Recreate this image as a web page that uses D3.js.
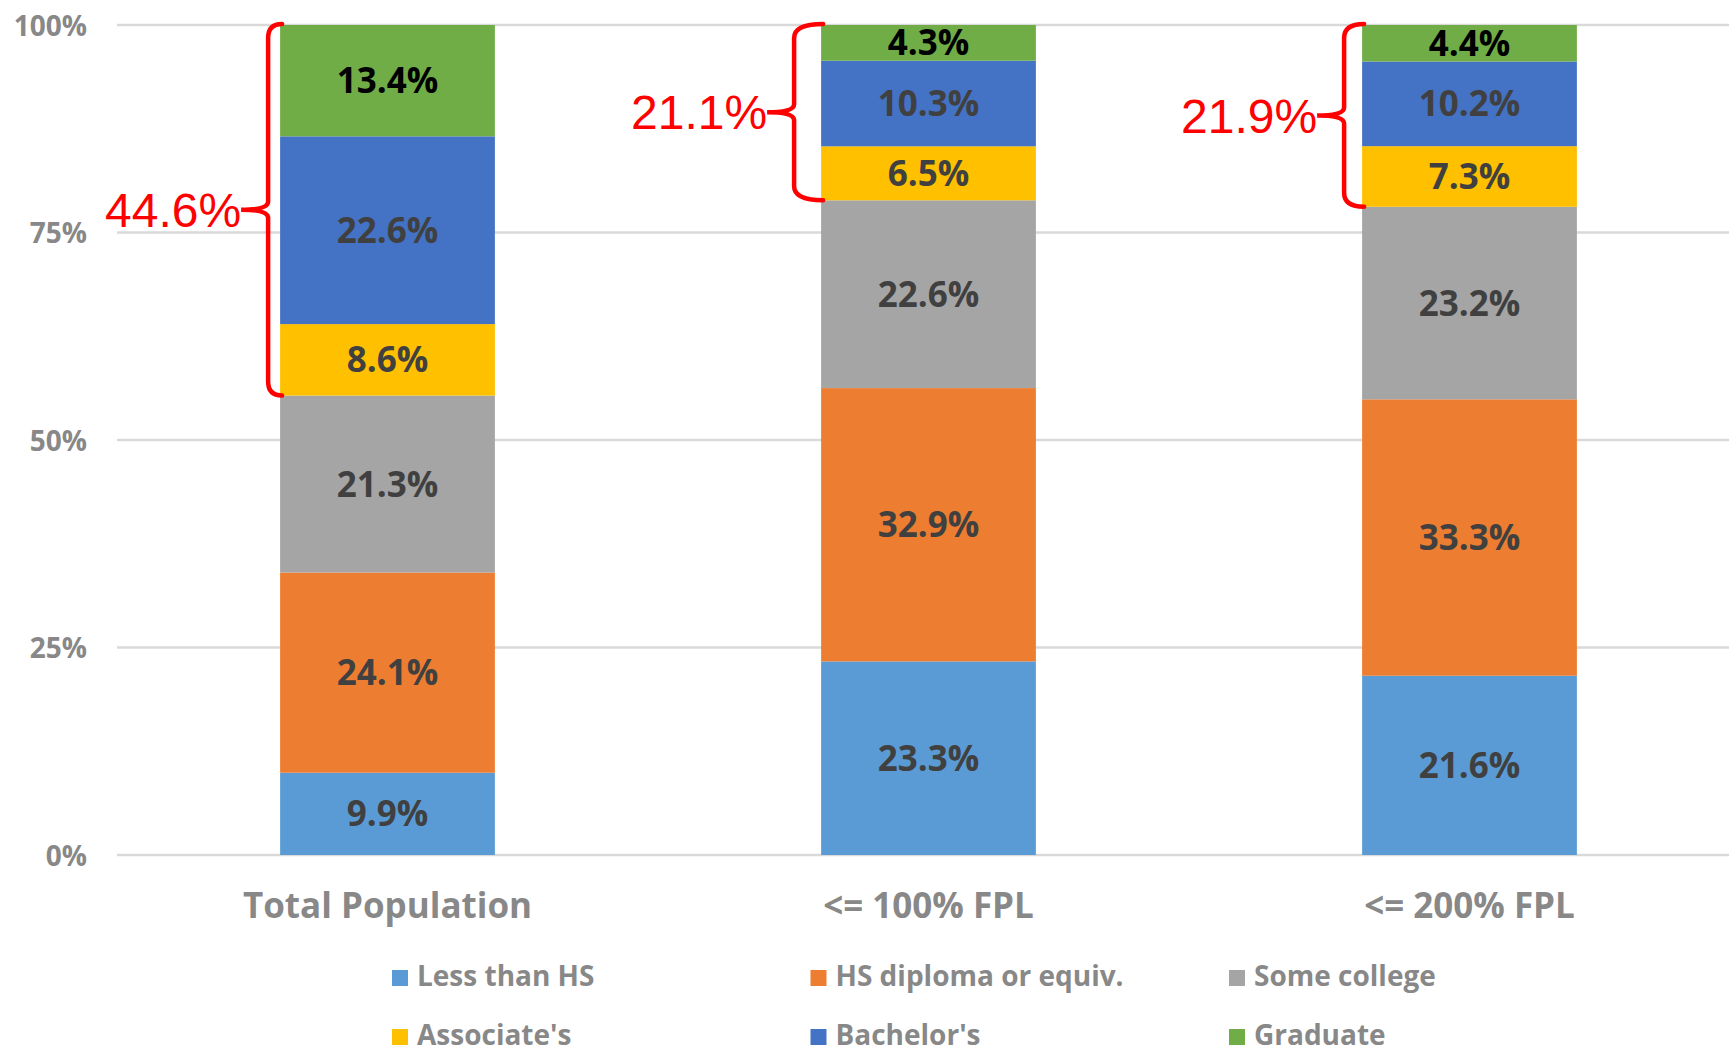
<!DOCTYPE html>
<html>
<head>
<meta charset="utf-8">
<script src="https://cdnjs.cloudflare.com/ajax/libs/d3/7.8.5/d3.min.js"></script>
<style>
    body { margin: 0; background: #fff; }
    svg { display: block; }
</style>
</head>
<body>
<svg class="stack-chart" width="1729" height="1053"></svg>
<script>
// Categories along the x axis
const categories = ['Total Population', '<= 100% FPL', '<= 200% FPL'];

// Education levels, bottom to top of each stack
const levels = ["Less than HS", "HS diploma or equiv.", "Some college", "Associate's", "Bachelor's", "Graduate"];

// Share of each level per category (%)
const lessThanHS = [9.9, 23.3, 21.6];
const hsDiploma = [24.1, 32.9, 33.3];
const someCollege = [21.3, 22.6, 23.2];
const associates = [8.6, 6.5, 7.3];
const bachelors = [22.6, 10.3, 10.2];
const graduate = [13.4, 4.3, 4.4];

// Red brace callouts: associate's + bachelor's + graduate
const braceLabels = ['44.6%', '21.1%', '21.9%'];

// y axis ticks
const yTicks = [0, 25, 50, 75, 100];

const seriesValues = [lessThanHS, hsDiploma, someCollege, associates, bachelors, graduate];
const colors = ['#5B9BD5', '#ED7D31', '#A5A5A5', '#FFC000', '#4472C4', '#70AD47'];
const labelColors = ['#404040', '#404040', '#404040', '#404040', '#404040', '#000000'];

const FONT = "'Open Sans', Lato, sans-serif";

// Build rows for d3.stack (one object per category)
let rows = categories.map((cat, i) => {
    let row = {category: cat};
    levels.forEach((lvl, j) => { row[lvl] = seriesValues[j][i]; });
    return row;
});
// Excel's 100% stacked: normalise each column to its total
let totals = rows.map((r) => d3.sum(levels, (l) => r[l]));
let stacked = d3.stack().keys(levels)(rows);

let svg = d3.select('.stack-chart');

const xScale = d3.scaleBand()
    .domain(categories)
    .range([117, 1740])
    .paddingInner(0.603)
    .paddingOuter(0.3015);

const yScale = d3.scaleLinear()
    .domain([0, 100])
    .range([855, 25]);

const pct = (v, i) => v / totals[i] * 100;

/* Gridlines */
svg.append('g')
    .selectAll('line')
    .data(yTicks)
    .enter()
    .append('line')
    .attr('x1', 117)
    .attr('x2', 1729)
    .attr('y1', (d) => yScale(d))
    .attr('y2', (d) => yScale(d))
    .attr('stroke', '#d9d9d9')
    .attr('stroke-width', 2.5);

/* y axis labels */
let yAxis = svg.append('g')
    .attr('transform', 'translate(87,0)')
    .call(d3.axisLeft(yScale).tickValues(yTicks).tickFormat((d) => d + '%').tickSize(0).tickPadding(0));
yAxis.select('.domain').remove();
yAxis.selectAll('text')
    .attr('font-family', FONT)
    .attr('font-weight', 700)
    .attr('font-size', 28)
    .attr('fill', '#888888')
    .attr('dy', '0.36em');

/* Stacked bars */
let layers = svg.append('g')
    .selectAll('g')
    .data(stacked)
    .enter()
    .append('g')
    .attr('fill', (d, i) => colors[i]);

layers.selectAll('rect')
    .data((d) => d)
    .enter()
    .append('rect')
    .attr('x', (d) => xScale(d.data.category))
    .attr('width', xScale.bandwidth())
    .attr('y', (d, i) => yScale(pct(d[1], i)))
    .attr('height', (d, i) => yScale(pct(d[0], i)) - yScale(pct(d[1], i)));

// Value labels in the middle of each segment
layers.each(function(layer, li) {
    d3.select(this).selectAll('text')
        .data(layer)
        .enter()
        .append('text')
        .attr('x', (d) => xScale(d.data.category) + xScale.bandwidth() / 2)
        .attr('y', (d, i) => yScale(pct((d[0] + d[1]) / 2, i)))
        .attr('dy', '0.36em')
        .attr('text-anchor', 'middle')
        .attr('font-family', FONT)
        .attr('font-weight', 700)
        .attr('font-size', 35)
        .attr('fill', labelColors[li])
        .text((d) => (d[1] - d[0]).toFixed(1) + '%');
});

/* x axis category labels */
svg.append('g')
    .selectAll('text')
    .data(categories)
    .enter()
    .append('text')
    .attr('x', (d) => xScale(d) + xScale.bandwidth() / 2)
    .attr('y', 918)
    .attr('text-anchor', 'middle')
    .attr('font-family', FONT)
    .attr('font-weight', 700)
    .attr('font-size', 35)
    .attr('fill', '#888888')
    .text((d) => d);

/* Red braces around associate's..graduate */
const braceGaps = [12, 27, 18], tipLen = 27;
let braceTop = stacked[3]; // associate's layer gives the lower bound
let braces = svg.append('g')
    .selectAll('g')
    .data(categories)
    .enter()
    .append('g');

braces.append('path')
    .attr('fill', 'none')
    .attr('stroke', '#FF0000')
    .attr('stroke-width', 4.5)
    .attr('stroke-linecap', 'round')
    .attr('d', (d, i) => {
        let ex = xScale(d) + 2;
        let xv = xScale(d) - braceGaps[i];
        let top = yScale(100) - 1;
        let bottom = yScale(pct(braceTop[i][0], i));
        let mid = (top + bottom) / 2;
        let tip = xv - tipLen;
        return `M${ex},${top} Q${xv},${top} ${xv},${top + 14}`
            + ` L${xv},${mid - 8} Q${xv},${mid} ${tip},${mid}`
            + ` Q${xv},${mid} ${xv},${mid + 8}`
            + ` L${xv},${bottom - 14} Q${xv},${bottom} ${ex},${bottom}`;
    });

braces.append('text')
    .attr('x', (d, i) => xScale(d) - braceGaps[i] - tipLen)
    .attr('y', (d, i) => (yScale(100) - 1 + yScale(pct(braceTop[i][0], i))) / 2)
    .attr('dy', '0.36em')
    .attr('text-anchor', 'end')
    .attr('font-family', "'Liberation Sans', Arial, sans-serif")
    .attr('font-size', 48)
    .attr('fill', '#FF0000')
    .text((d, i) => braceLabels[i]);

/* Legend: two rows of three */
let legend = svg.append('g')
    .selectAll('g')
    .data(levels)
    .enter()
    .append('g')
    .attr('transform', (d, i) => `translate(${392 + (i % 3) * 418.5},${Math.floor(i / 3) * 59})`);

legend.append('rect')
    .attr('y', 970)
    .attr('width', 16)
    .attr('height', 16)
    .attr('fill', (d, i) => colors[i]);

legend.append('text')
    .attr('x', 25)
    .attr('y', 986)
    .attr('font-family', FONT)
    .attr('font-weight', 700)
    .attr('font-size', 28)
    .attr('fill', '#888888')
    .text((d) => d);
</script>
</body>
</html>
